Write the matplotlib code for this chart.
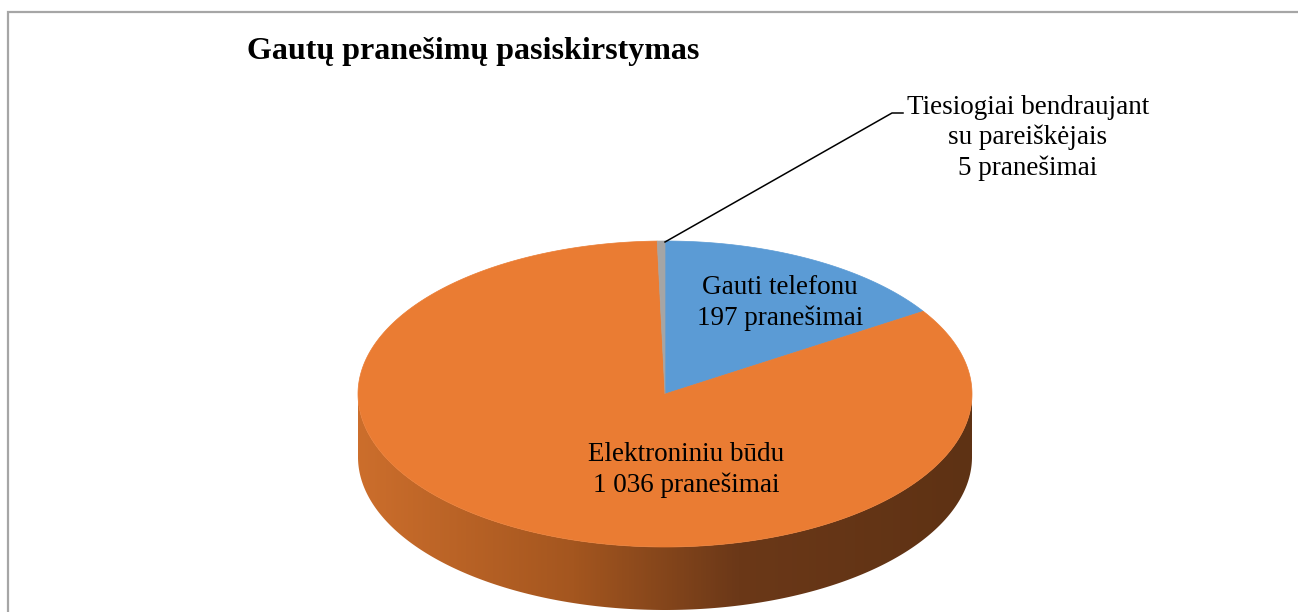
import numpy as np
import matplotlib
matplotlib.use("Agg")
import matplotlib.pyplot as plt
from matplotlib.patches import Polygon
from matplotlib.colors import LinearSegmentedColormap

# data
categories = ["Gauti telefonu", "Elektroniniu būdu", "Tiesiogiai bendraujant\nsu pareiškėjais"]
values = [197, 1036, 5]
value_labels = ["197 pranešimai", "1 036 pranešimai", "5 pranešimai"]
colors = ["#5B9BD5", "#EA7C33", "#A5A5A5"]
title = "Gautų pranešimų pasiskirstymas"

# pie geometry in pixels
cx, cy = 665, 394
a, b = 307, 153
depth = 63

plt.rcParams['font.family'] = ['Liberation Serif', 'DejaVu Serif']

fig = plt.figure(figsize=(12.98, 6.12), dpi=100)
ax = fig.add_axes([0, 0, 1, 1])
ax.set_xlim(0, 1298)
ax.set_ylim(612, 0)
ax.axis('off')

def ell(t):
    return cx + a * np.cos(t), cy - b * np.sin(t)

# front side wall with a horizontal gradient
t = np.linspace(np.pi, 2 * np.pi, 300)
xs, ys = ell(t)
side = np.vstack([np.column_stack([xs, ys]), np.column_stack([xs[::-1], ys[::-1] + depth])])
side_poly = Polygon(side, closed=True, facecolor='none', edgecolor='none')
ax.add_patch(side_poly)
cmap = LinearSegmentedColormap.from_list("side", [(0, "#CC6E2C"), (0.35, "#A4561F"),
                                                  (0.62, "#6B3818"), (1, "#5E3214")])
grad = np.linspace(0, 1, 512).reshape(1, -1)
im = ax.imshow(grad, cmap=cmap, extent=[cx - a, cx + a, cy + b + depth + 2, cy - 2],
               aspect='auto', zorder=1)
im.set_clip_path(side_poly)
ax.set_xlim(0, 1298)
ax.set_ylim(612, 0)

# top wedges, clockwise from 12 o'clock
total = sum(values)
start = 90.0
for v, c in zip(values, colors):
    span = 360.0 * v / total
    ang = np.radians(np.linspace(start, start - span, max(int(span * 2), 3)))
    px, py = ell(ang)
    pts = np.vstack([[cx, cy], np.column_stack([px, py])])
    ax.add_patch(Polygon(pts, closed=True, facecolor=c, edgecolor=c, linewidth=0.5, zorder=2))
    start -= span

fs = 19.5
ls = 1.27
ax.text(780, 303, categories[0] + "\n" + value_labels[0], ha='center', va='center',
        fontsize=fs, linespacing=ls, zorder=5)
ax.text(686, 470, categories[1] + "\n" + value_labels[1], ha='center', va='center',
        fontsize=fs, linespacing=ls, zorder=5)
ax.text(1028, 138, categories[2] + "\n" + value_labels[2], ha='center', va='center',
        fontsize=fs, linespacing=ls, zorder=5)

# leader line to the small slice
ax.plot([665, 892, 903], [242, 113, 113], color='black', linewidth=1.1, zorder=4)

ax.text(247, 52, title, ha='left', va='center', fontsize=23, fontweight='bold')

# chart frame
ax.plot([7.5, 7.5, 1298], [612, 11.5, 11.5], color='#A6A6A6', linewidth=1.6,
        solid_joinstyle='miter')

fig.savefig("out.png", dpi=100)
